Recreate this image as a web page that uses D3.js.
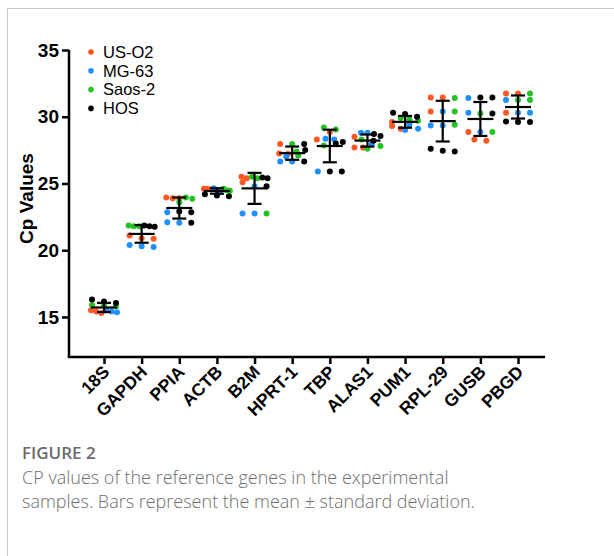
<!DOCTYPE html>
<html>
<head>
<meta charset="utf-8">
<script src="https://cdn.jsdelivr.net/npm/d3@7"></script>
<style>
  body { margin: 0; background: #fff; }
  svg { display: block; }
</style>
</head>
<body>
<svg id="chart" width="614" height="556"></svg>
<script>
// Reference genes on the x axis
const genes = ["18S", "GAPDH", "PPIA", "ACTB", "B2M", "HPRT-1", "TBP", "ALAS1", "PUM1", "RPL-29", "GUSB", "PBGD"];

// Cell lines (one series each)
const cellLines = ["US-O2", "MG-63", "Saos-2", "HOS"];
const lineColors = ["#ff5722", "#1e90ff", "#22c322", "#000000"];

// Cp values per gene, replicate measurements for each cell line
const usO2 = [
  [15.4, 15.3, 15.5], [21.1, 20.85, 20.9], [23.95, 23.9, 23.9], [24.6, 24.55, 24.6],
  [25.5, 25.4, 25.1], [27.95, 27.25, 27.2], [28.85, 28.3], [28.5, 27.7, 27.7],
  [29.6, 29.3, 29.1], [31.45, 30.4, 31.45], [28.85, 28.2, 28.3], [31.75, 31.75, 30.3]
];
const mg63 = [
  [15.35, 15.4, 15.5], [20.25, 20.4, 20.3], [22.85, 22.05, 22.1], [24.65, 24.5, 24.45],
  [24.8, 22.75, 22.75], [26.65, 26.65, 27.0], [28.3, 28.35, 25.9], [28.8, 28.8, 27.95],
  [29.4, 29.1, 29.0], [30.4, 29.35, 29.35], [31.4, 30.3, 28.85], [31.25, 30.3, 30.3]
];
const saos2 = [
  [15.85, 15.9, 15.8], [21.85, 21.8, 21.8], [23.6, 23.95, 23.85], [24.6, 24.5, 24.45],
  [25.5, 25.4, 22.75], [27.95, 27.1, 27.4], [29.05, 29.2, 27.85], [27.6, 27.8, 28.3],
  [29.9, 29.8, 29.7], [31.4, 30.4, 29.4], [30.25, 28.85], [31.75, 31.25, 31.25]
];
const hos = [
  [16.15, 16.05, 16.3], [21.8, 21.85, 21.75], [22.9, 22.85, 22.05], [24.1, 24.05, 24.2],
  [25.4, 25.45, 24.8], [27.95, 27.5, 26.65], [28.0, 28.1, 25.9, 25.9], [28.55, 28.7, 28.2],
  [30.3, 30.2, 30.0], [27.4, 27.6, 27.45], [31.45, 31.45, 30.25], [29.6, 29.65, 29.6]
];

const yTicks = [15, 20, 25, 30, 35];
const yDomain = [12, 35];
const yTitle = "Cp Values";
const captionTitle = "FIGURE 2";
const captionLines = [
  "CP values of the reference genes in the experimental",
  "samples. Bars represent the mean \u00b1 standard deviation."
];

const seriesValues = [usO2, mg63, saos2, hos];

const svg = d3.select("#chart");

// Panel frame
svg.append("line").attr("x1", 7).attr("x2", 614).attr("y1", 8.5).attr("y2", 8.5)
  .attr("stroke", "#c8c8c8").attr("stroke-width", 1);
svg.append("line").attr("x1", 7.5).attr("x2", 7.5).attr("y1", 8).attr("y2", 556)
  .attr("stroke", "#c8c8c8").attr("stroke-width", 1);

const plot = { left: 69, right: 545, top: 50, bottom: 357 };

const x = d3.scalePoint().domain(genes).range([104, 518]);
const y = d3.scaleLinear().domain(yDomain).range([plot.bottom, plot.top]);

const font = "Liberation Sans, Arial, sans-serif";

// Y axis
const yAxis = svg.append("g").attr("transform", `translate(${plot.left},0)`)
  .call(d3.axisLeft(y).tickValues(yTicks).tickSize(7).tickPadding(3).tickSizeOuter(0));
yAxis.select(".domain").attr("stroke", "#000").attr("stroke-width", 2.5)
  .attr("d", `M0,${y(35)}V${plot.bottom}`);
yAxis.selectAll(".tick line").attr("stroke", "#000").attr("stroke-width", 2.5);
yAxis.selectAll(".tick text").attr("font-family", font).attr("font-size", 19)
  .attr("font-weight", "bold").attr("fill", "#000");

// X axis
const xAxis = svg.append("g").attr("transform", `translate(0,${plot.bottom})`)
  .call(d3.axisBottom(x).tickSize(7).tickSizeOuter(0));
xAxis.select(".domain").attr("stroke", "#000").attr("stroke-width", 2.5)
  .attr("d", `M${plot.left - 1.25},0H${plot.right}`);
xAxis.selectAll(".tick line").attr("stroke", "#000").attr("stroke-width", 2.5);
xAxis.selectAll(".tick text")
  .attr("font-family", font).attr("font-size", 17.5).attr("font-weight", "bold").attr("fill", "#000")
  .attr("text-anchor", "end").attr("dy", null).attr("y", 0)
  .attr("transform", "translate(6,16) rotate(-45)");

// Y axis title
svg.append("text")
  .attr("transform", `translate(33,${(y(35) + plot.bottom) / 2 - 5}) rotate(-90)`)
  .attr("text-anchor", "middle")
  .attr("font-family", font).attr("font-size", 19).attr("font-weight", "bold")
  .text(yTitle);

// Points: stack replicates into rows by value and spread each row sideways
const r = 3;
const maxSpread = 26;
const stepMax = 12;
const pointsG = svg.append("g");
const barsG = svg.append("g");

genes.forEach((g, gi) => {
  const pts = [];
  seriesValues.forEach((ser, si) => {
    ser[gi].forEach(v => pts.push({ si, v, py: y(v) }));
  });
  const sorted = pts.slice().sort((a, b) => a.py - b.py);
  const rows = [];
  sorted.forEach(p => {
    const last = rows[rows.length - 1];
    if (last && Math.abs(p.py - last.anchor) < 4.5) last.items.push(p);
    else rows.push({ anchor: p.py, items: [p] });
  });
  rows.forEach(row => {
    const n = row.items.length;
    const step = n > 1 ? Math.min(stepMax, maxSpread / (n - 1)) : 0;
    row.items.sort((a, b) => a.si - b.si);
    row.items.forEach((p, i) => { p.dx = (i - (n - 1) / 2) * step; });
  });

  pointsG.selectAll(null).data(pts).enter().append("circle")
    .attr("cx", d => x(g) + d.dx)
    .attr("cy", d => d.py)
    .attr("r", r)
    .attr("fill", d => lineColors[d.si]);

  // Mean and standard deviation
  const vals = pts.map(p => p.v);
  const mean = d3.mean(vals);
  const sd = d3.deviation(vals);
  const cx = x(g);
  const bar = barsG.append("g").attr("stroke", "#000").attr("stroke-width", 2.2).attr("fill", "none");
  bar.append("line").attr("x1", cx - 13).attr("x2", cx + 13).attr("y1", y(mean)).attr("y2", y(mean));
  bar.append("line").attr("x1", cx).attr("x2", cx).attr("y1", y(mean + sd)).attr("y2", y(mean - sd));
  bar.append("line").attr("x1", cx - 7).attr("x2", cx + 7).attr("y1", y(mean + sd)).attr("y2", y(mean + sd));
  bar.append("line").attr("x1", cx - 7).attr("x2", cx + 7).attr("y1", y(mean - sd)).attr("y2", y(mean - sd));
});

// Legend
const legend = svg.append("g").attr("transform", "translate(91,52)");
cellLines.forEach((name, i) => {
  const row = legend.append("g").attr("transform", `translate(0,${i * 18.8})`);
  row.append("circle").attr("r", 2.8).attr("fill", lineColors[i]);
  row.append("text").attr("x", 12).attr("dy", "0.35em")
    .attr("font-family", font).attr("font-size", 16.5).text(name);
});

// Caption
svg.append("text").attr("x", 22).attr("y", 459)
  .attr("font-family", "Open Sans, sans-serif").attr("font-size", 17).attr("font-weight", 600)
  .attr("fill", "#6a6a6a").text(captionTitle);
captionLines.forEach((t, i) => {
  svg.append("text").attr("x", 22).attr("y", 484 + i * 23.5)
    .attr("font-family", "Open Sans, sans-serif").attr("font-size", 18).attr("font-weight", 300)
    .attr("fill", "#6e6e6e").text(t);
});
</script>
</body>
</html>
